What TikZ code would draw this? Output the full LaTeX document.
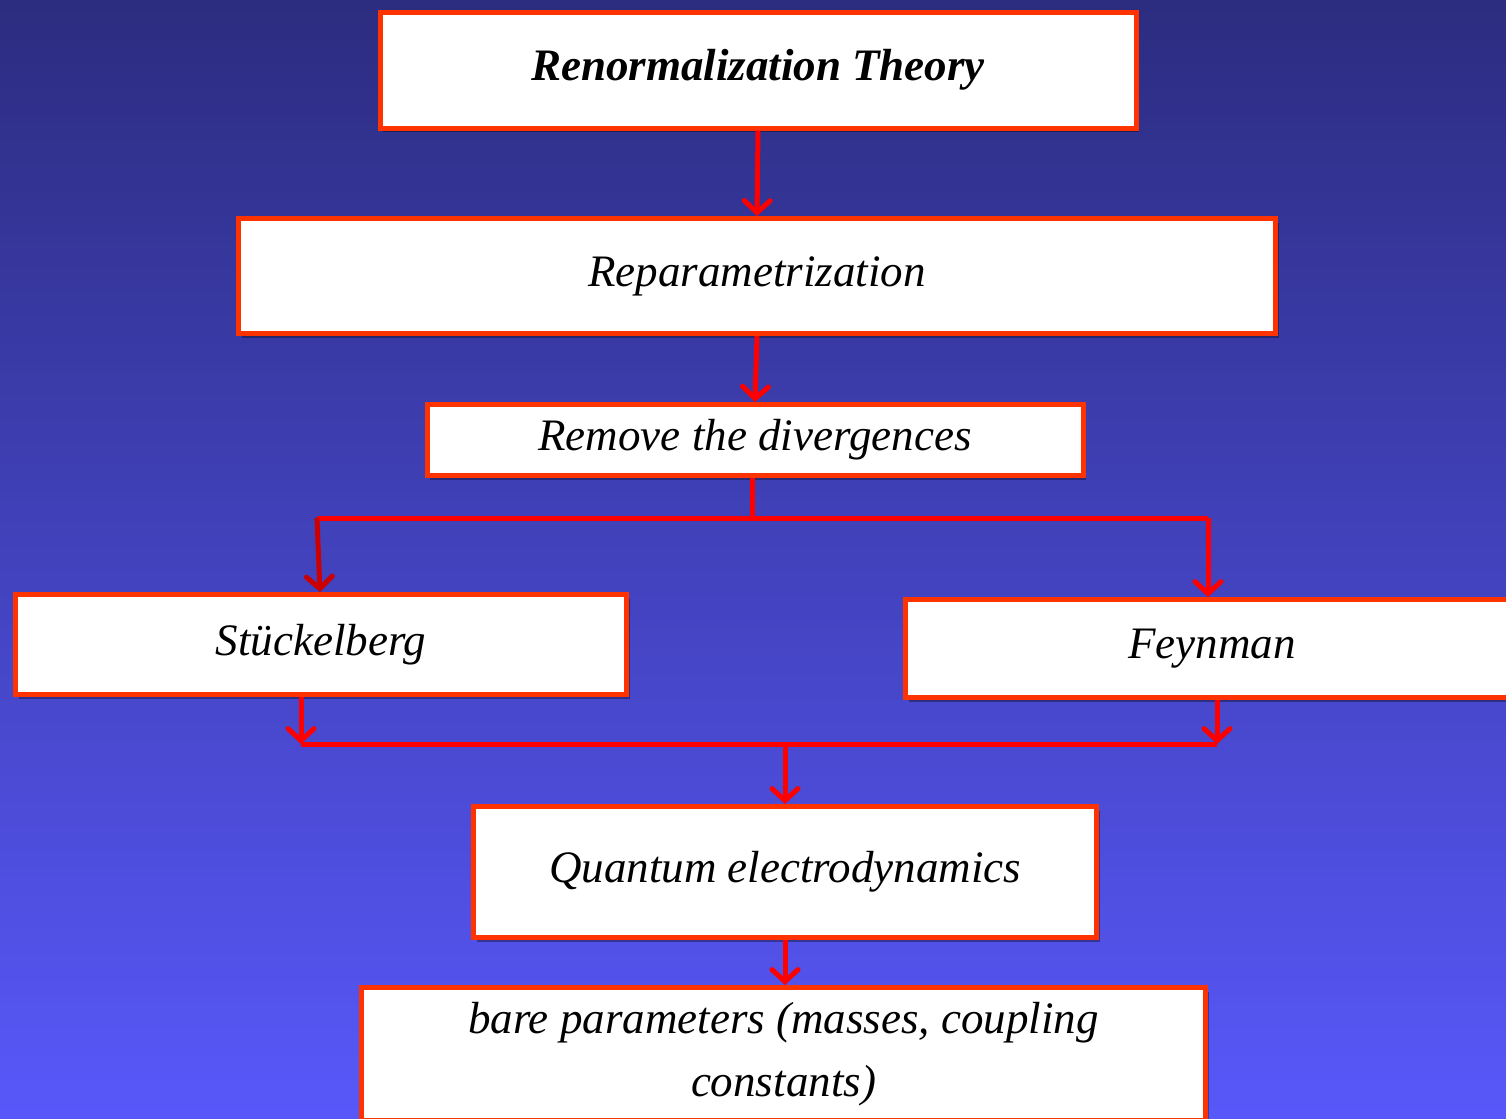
\documentclass[tikz,border=0pt]{standalone}
\usepackage{fontspec}
\setmainfont{Liberation Serif}
\usetikzlibrary{arrows.meta,shadows}
\definecolor{bgtop}{HTML}{2C2C80}
\definecolor{bgbot}{HTML}{5858FA}
\definecolor{boxred}{HTML}{FF3300}
\definecolor{linered}{HTML}{FF0000}
\definecolor{darkred}{HTML}{CC0000}
\begin{document}
\begin{tikzpicture}[x=0.5pt,y=-0.5pt,
  box/.style={draw=boxred, line width=2.5pt, fill=white, inner sep=0pt,
    font=\fontsize{22.5}{31.5}\selectfont\itshape,
    drop shadow={shadow xshift=1.5pt, shadow yshift=-2pt, opacity=0.35, fill=black}},
  conn/.style={draw=linered, line width=2.5pt},
  arr/.style={conn, -{Straight Barb[length=6pt,width=13pt,line cap=round]}}]
\useasboundingbox (0,0) rectangle (1506,1119);
\shade[top color=bgtop, bottom color=bgbot] (0,0) rectangle (1506,1119);
\begin{scope}
\clip (0,0) rectangle (1506,1119);
\node[box, minimum width=378pt, minimum height=58pt,
  font=\fontsize{22.5}{24}\selectfont\bfseries\itshape] (n1) at (758,70) {Renormalization Theory};
\node[box, minimum width=518.5pt, minimum height=57.5pt] (n2) at (757,276) {Reparametrization};
\node[box, minimum width=328pt, minimum height=35.5pt] (n3) at (755,440) {Remove the divergences};
\node[box, minimum width=305.5pt, minimum height=50pt] (n4) at (321,644.5) {Stückelberg};
\node[box, minimum width=306.5pt, minimum height=49pt] (n5) at (1212,648.5) {Feynman};
\node[box, minimum width=311.5pt, minimum height=65.5pt] (n6) at (785,872) {Quantum electrodynamics};
\node[box, minimum width=422pt, minimum height=66.5pt, align=center] (n7) at (783.5,1054)
  {bare parameters (masses, coupling\\constants)};

\coordinate (j1) at (752,518);
\coordinate (jl) at (317,518);
\coordinate (jr) at (1208,518);
\coordinate (ml) at (301,744);
\coordinate (mr) at (1217,744);
\coordinate (mm) at (785,744);

\draw[arr] (n1.south) -- (n2.north);
\draw[arr] (n2.south) -- (n3.north);
\draw[conn] (n3.south -| j1) -- (j1);
\draw[conn] (jl) -- (jr);
\draw[arr, draw=darkred] (jl) -- ([xshift=-0.5pt]n4.north);
\draw[arr] (jr) -- (n5.north -| jr);
\draw[arr] (n4.south -| ml) -- (ml);
\draw[arr] (n5.south -| mr) -- (mr);
\draw[conn] (ml) -- (mr);
\draw[arr] (mm) -- (n6.north);
\draw[arr] (n6.south) -- (n7.north -| n6.south);
\end{scope}
\end{tikzpicture}
\end{document}
